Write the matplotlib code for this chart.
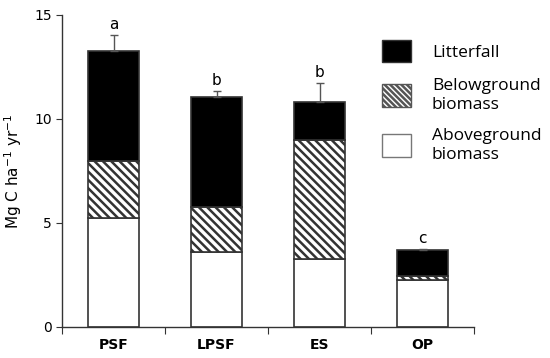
import numpy as np
import matplotlib.pyplot as plt
from matplotlib.patches import Patch

sites = ["PSF", "LPSF", "ES", "OP"]
aboveground = [5.25, 3.62, 3.28, 2.26]
belowground = [2.75, 2.16, 5.69, 0.21]
litterfall = [5.27, 5.29, 1.86, 1.23]
err_up = [0.77, 0.29, 0.90, 0.04]
letters = ["a", "b", "b", "c"]

edge = "#333333"
plt.rcParams["hatch.linewidth"] = 1.8
plt.rcParams["hatch.color"] = "black"

fig = plt.figure(figsize=(5.5, 3.58), dpi=100)
ax = fig.add_axes([62 / 550, 1 - 327 / 358, 412 / 550, 312 / 358])

x = np.arange(len(sites))
w = 0.5
above = np.array(aboveground)
below = np.array(belowground)
litter = np.array(litterfall)

ax.bar(x, above, w, color="white", edgecolor=edge, linewidth=1.2)
ax.bar(x, below, w, bottom=above, color="white", edgecolor=edge,
       linewidth=1.2, hatch="\\\\\\\\")
ax.bar(x, litter, w, bottom=above + below, color="black", edgecolor=edge,
       linewidth=1.2)

tops = above + below + litter
ax.errorbar(x, tops, yerr=[np.zeros(len(x)), err_up], fmt="none",
            ecolor="#555555", elinewidth=1.0, capsize=3, capthick=1.0)

for xi, t, e, lab in zip(x, tops, err_up, letters):
    ax.text(xi, t + e + 0.15, lab, ha="center", va="bottom", fontsize=11)

ax.set_xlim(-0.5, len(sites) - 0.5)
ax.set_ylim(0, 15)
ax.set_yticks([0, 5, 10, 15])
ax.tick_params(axis="y", labelsize=10, length=4, color=edge, direction="out")
ax.set_xticks(np.arange(-0.5, len(sites)), minor=False)
ax.set_xticklabels([])
ax.set_xticks(x, minor=True)
ax.set_xticklabels(sites, minor=True, fontweight="bold", fontsize=10)
ax.tick_params(axis="x", which="major", length=5, color=edge, direction="out")
ax.tick_params(axis="x", which="minor", length=0, pad=8)
ax.set_ylabel("Mg C ha$^{\\mathregular{-1}}$ yr$^{\\mathregular{-1}}$", fontsize=11, labelpad=7)

for s in ["top", "right"]:
    ax.spines[s].set_visible(False)
for s in ["left", "bottom"]:
    ax.spines[s].set_color(edge)
    ax.spines[s].set_linewidth(1.0)

handles = [
    Patch(facecolor="black", edgecolor=edge),
    Patch(facecolor="white", edgecolor="#555555", hatch="\\\\\\\\\\\\"),
    Patch(facecolor="white", edgecolor="#777777"),
]
labels = ["Litterfall", "Belowground\nbiomass", "Aboveground\nbiomass"]
fig.legend(handles, labels, loc="upper left", bbox_to_anchor=(366 / 550, 1 - 24 / 358),
           frameon=False, prop={"family": "Open Sans", "size": 12.5},
           handlelength=1.7, handleheight=1.65, labelspacing=0.9, handletextpad=1.2)

fig.savefig("out.png", dpi=100)
